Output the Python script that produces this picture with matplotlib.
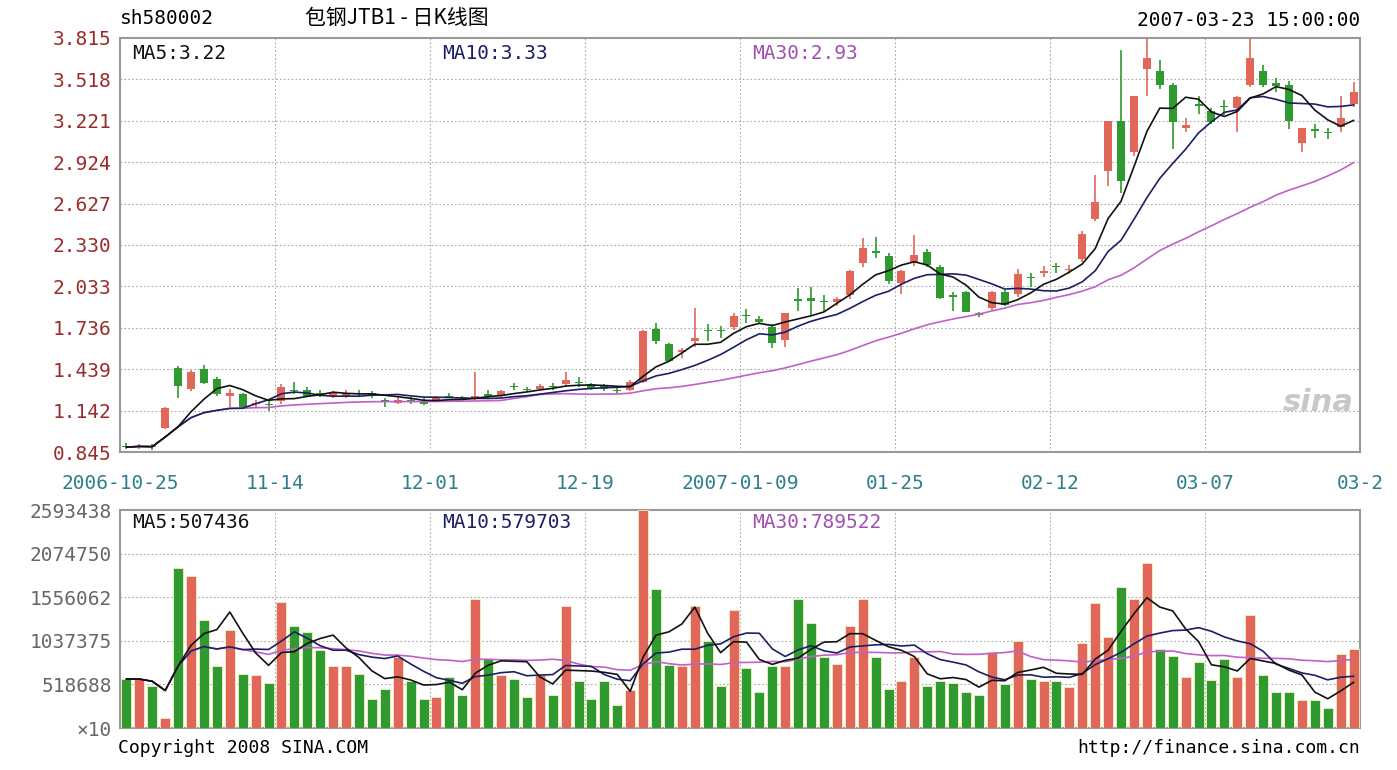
import numpy as np
import pandas as pd
import matplotlib
matplotlib.use("Agg")
import matplotlib.pyplot as plt

opens = [.89,.88,.89,1.02,1.45,1.30,1.44,1.37,1.25,1.26,1.19,1.19,1.21,1.29,1.29,1.27,1.25,1.25,1.27,1.27,
         1.22,1.20,1.22,1.21,1.22,1.25,1.24,1.23,1.26,1.25,1.32,1.30,1.30,1.32,1.33,1.35,1.33,1.32,1.29,1.29,
         1.35,1.73,1.62,1.56,1.64,1.72,1.72,1.74,1.83,1.80,1.74,1.65,1.94,1.95,1.93,1.92,1.97,2.20,2.29,2.25,
         2.06,2.20,2.28,2.17,1.97,1.99,1.84,1.88,1.99,1.98,2.10,2.13,2.18,2.15,2.23,2.52,2.86,3.22,3.00,3.59,
         3.58,3.48,3.17,3.34,3.29,3.33,3.31,3.48,3.58,3.49,3.48,3.06,3.16,3.14,3.18,3.34]
highs = [.91,.90,.90,1.17,1.46,1.43,1.47,1.38,1.30,1.27,1.22,1.22,1.33,1.35,1.31,1.29,1.28,1.29,1.29,1.28,
         1.23,1.24,1.24,1.23,1.25,1.27,1.25,1.42,1.29,1.29,1.34,1.31,1.33,1.34,1.42,1.38,1.34,1.33,1.31,1.36,
         1.72,1.77,1.63,1.59,1.88,1.76,1.75,1.84,1.87,1.82,1.76,1.84,2.02,2.03,1.97,1.96,2.15,2.38,2.39,2.27,
         2.15,2.40,2.30,2.19,1.99,2.00,1.85,2.00,2.01,2.16,2.13,2.18,2.20,2.19,2.43,2.83,3.22,3.73,3.40,3.82,
         3.66,3.49,3.24,3.40,3.31,3.37,3.40,3.85,3.62,3.53,3.51,3.17,3.20,3.17,3.40,3.50]
lows = [.87,.87,.86,1.01,1.23,1.28,1.33,1.25,1.17,1.16,1.16,1.14,1.19,1.26,1.24,1.24,1.23,1.23,1.24,1.23,
        1.17,1.19,1.19,1.18,1.21,1.23,1.22,1.22,1.23,1.24,1.29,1.28,1.29,1.29,1.31,1.31,1.29,1.28,1.27,1.28,
        1.34,1.62,1.49,1.52,1.60,1.64,1.66,1.72,1.77,1.76,1.59,1.60,1.86,1.83,1.86,1.89,1.94,2.17,2.24,2.05,
        1.98,2.18,2.17,1.94,1.86,1.85,1.81,1.86,1.89,1.96,2.03,2.10,2.13,2.12,2.21,2.50,2.75,2.70,2.97,3.40,
        3.45,3.02,3.14,3.27,3.20,3.26,3.14,3.46,3.46,3.43,3.16,3.00,3.10,3.09,3.14,3.32]
closes = [.88,.89,.88,1.16,1.32,1.42,1.34,1.26,1.27,1.17,1.20,1.18,1.31,1.28,1.25,1.26,1.27,1.27,1.26,1.25,
          1.21,1.22,1.21,1.19,1.24,1.24,1.23,1.25,1.25,1.28,1.31,1.29,1.32,1.31,1.36,1.34,1.30,1.30,1.28,1.35,
          1.71,1.64,1.50,1.58,1.66,1.71,1.71,1.82,1.82,1.78,1.63,1.84,1.93,1.93,1.92,1.94,2.14,2.31,2.27,2.07,
          2.14,2.26,2.19,1.95,1.96,1.85,1.83,1.99,1.90,2.12,2.09,2.14,2.17,2.16,2.41,2.64,3.22,2.79,3.40,3.67,
          3.48,3.21,3.19,3.33,3.21,3.32,3.39,3.67,3.48,3.47,3.22,3.17,3.15,3.13,3.24,3.43]
volumes_k = [582,582,503,116,1905,1810,1281,741,1164,646,635,540,1503,1217,1138,926,741,741,646,344,
             466,847,556,344,371,609,397,1535,820,635,582,371,635,397,1456,556,344,556,275,450,
             2593,1651,752,741,1456,1032,503,1403,715,423,741,741,1535,1244,847,767,1217,1535,847,466,
             556,847,503,556,540,434,397,910,529,1032,582,556,556,487,1006,1493,1085,1678,1535,1958,
             937,857,609,783,572,820,609,1350,635,423,423,328,328,238,884,937]
price_ticks = ["0.845","1.142","1.439","1.736","2.033","2.330","2.627","2.924","3.221","3.518","3.815"]
vol_ticks = ["×10","518688","1037375","1556062","2074750","2593438"]
date_labels = ["2006-10-25","11-14","12-01","12-19","2007-01-09","01-25","02-12","03-07","03-2"]

o = np.array(opens); h = np.array(highs); l = np.array(lows); c = np.array(closes)
v = np.array(volumes_k) * 1000.0
n = len(c); x = np.arange(n)
RED = "#e0675a"; GREEN = "#2f9a2f"
cols = [RED if cc >= oo else GREEN for oo, cc in zip(o, c)]
MA5C, MA10C, MA30C = "#111111", "#1b1f66", "#c060c8"

fig = plt.figure(figsize=(13.97, 7.70), dpi=100)
W, H = 1397, 770
def ax_rect(l_, t_, r_, b_):
    return [l_/W, 1-b_/H, (r_-l_)/W, (b_-t_)/H]
ax1 = fig.add_axes(ax_rect(120, 38, 1360, 452))
ax2 = fig.add_axes(ax_rect(120, 510, 1360, 728))
mono = ['DejaVu Sans Mono']
xlim = (-0.5, n-0.5)
gx = [xlim[0] + (xlim[1]-xlim[0])*k/8 for k in range(9)]

pmin, pmax = float(price_ticks[0]), float(price_ticks[-1])
for i in range(n):
    ax1.vlines(x[i], l[i], h[i], color=cols[i], lw=1.2, zorder=3)
    bot = min(o[i], c[i]); ht = max(abs(c[i]-o[i]), 0.006)
    ax1.bar(x[i], ht, bottom=bot, width=0.62, color=cols[i], zorder=4, linewidth=0)
s = pd.Series(c)
ax1.plot(x, s.rolling(30, min_periods=1).mean(), color=MA30C, lw=1.2, zorder=5)
ax1.plot(x, s.rolling(10, min_periods=1).mean(), color=MA10C, lw=1.2, zorder=5)
ax1.plot(x, s.rolling(5, min_periods=1).mean(), color=MA5C, lw=1.2, zorder=5)
ax1.set_xlim(*xlim); ax1.set_ylim(pmin, pmax)
pt = [float(t) for t in price_ticks]
for y in pt[1:-1]:
    ax1.axhline(y, color="#aaaaaa", lw=0.8, ls=(0, (1.5, 2)), zorder=1)
for g in gx[1:-1]:
    ax1.axvline(g, color="#aaaaaa", lw=0.8, ls=(0, (1.5, 2)), zorder=1)
ax1.set_yticks(pt); ax1.set_yticklabels(price_ticks, family=mono, fontsize=14, color="#9b2b2b")
ax1.set_xticks(gx); ax1.set_xticklabels(date_labels, family=mono, fontsize=14, color="#2d7f8a")
ax1.tick_params(axis="y", length=0, pad=6)
ax1.tick_params(axis="x", length=0, pad=16)
ax1.text(0.01, 0.985, "MA5:3.22", transform=ax1.transAxes, va="top", family=mono, fontsize=14, color=MA5C)
ax1.text(0.26, 0.985, "MA10:3.33", transform=ax1.transAxes, va="top", family=mono, fontsize=14, color=MA10C)
ax1.text(0.51, 0.985, "MA30:2.93", transform=ax1.transAxes, va="top", family=mono, fontsize=14, color="#a050b0")
ax1.text(0.995, 0.1, "sina", transform=ax1.transAxes, ha="right", fontsize=22, style="italic",
         color="#c8c8c8", fontweight="bold", zorder=0)

ax2.bar(x, v, width=0.78, color=cols, edgecolor="#f4f0c0", linewidth=0.6, zorder=3)
vs = pd.Series(v)
ax2.plot(x, vs.rolling(30, min_periods=1).mean(), color=MA30C, lw=1.2, zorder=5)
ax2.plot(x, vs.rolling(10, min_periods=1).mean(), color=MA10C, lw=1.2, zorder=5)
ax2.plot(x, vs.rolling(5, min_periods=1).mean(), color=MA5C, lw=1.2, zorder=5)
vt = [0, 518688, 1037375, 1556062, 2074750, 2593438]
ax2.set_xlim(*xlim); ax2.set_ylim(0, vt[-1])
for y in vt[1:-1]:
    ax2.axhline(y, color="#aaaaaa", lw=0.8, ls=(0, (1.5, 2)), zorder=1)
for g in gx[1:-1]:
    ax2.axvline(g, color="#aaaaaa", lw=0.8, ls=(0, (1.5, 2)), zorder=1)
ax2.set_yticks(vt); ax2.set_yticklabels(vol_ticks, family=mono, fontsize=14, color="#666666")
ax2.set_xticks([])
ax2.tick_params(length=0, pad=6)
ax2.text(0.01, 0.985, "MA5:507436", transform=ax2.transAxes, va="top", family=mono, fontsize=14, color=MA5C)
ax2.text(0.26, 0.985, "MA10:579703", transform=ax2.transAxes, va="top", family=mono, fontsize=14, color=MA10C)
ax2.text(0.51, 0.985, "MA30:789522", transform=ax2.transAxes, va="top", family=mono, fontsize=14, color="#a050b0")

for a in (ax1, ax2):
    for sp in a.spines.values():
        sp.set_color("#999999"); sp.set_linewidth(1.5)

fig.text(120/W, 1-18/H, "sh580002", family=mono, fontsize=14, va="center")
fig.text(305/W, 1-18/H, "包钢JTB1 - 日K线图", family=['Noto Sans CJK SC', 'DejaVu Sans'], fontsize=15, va="center")
fig.text(1360/W, 1-20/H, "2007-03-23 15:00:00", family=mono, fontsize=14, va="center", ha="right")
fig.text(118/W, 1-748/H, "Copyright 2008 SINA.COM", family=mono, fontsize=13, va="center")
fig.text(1360/W, 1-748/H, "http://finance.sina.com.cn", family=mono, fontsize=13, va="center", ha="right")
fig.savefig("out.png", dpi=100)
